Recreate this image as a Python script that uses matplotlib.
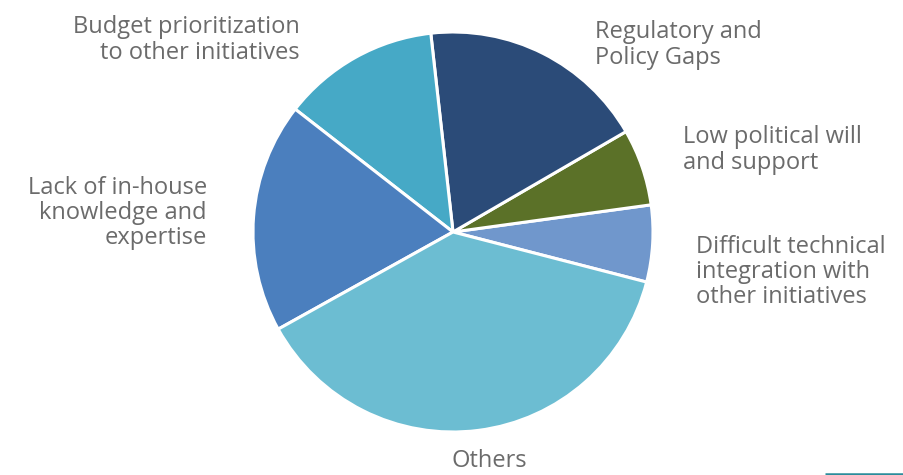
import matplotlib
matplotlib.use('Agg')
import matplotlib.pyplot as plt

# slice shares (%), counter-clockwise from the lower right
labels = ['Difficult technical\nintegration with\nother initiatives',
          'Low political will\nand support',
          'Regulatory and\nPolicy Gaps',
          'Budget prioritization\nto other initiatives',
          'Lack of in-house\nknowledge and\nexpertise',
          'Others']
shares = [6.2, 6.2, 18.4, 12.7, 18.6, 37.9]
colors = ['#7097cc', '#5b7128', '#2b4b78', '#46a9c6', '#4b7fbe', '#6cbdd2']

# where each label sits (pixels from the top left) and how it is aligned
label_xy = [(696, 272), (683, 150), (595, 45), (300, 40), (207, 213), (489, 461)]
label_ha = ['left', 'left', 'left', 'right', 'right', 'center']

W, H = 904, 475
fig = plt.figure(figsize=(W / 100, H / 100), dpi=100)
ax = fig.add_axes([0, 0, 1, 1])

ax.pie(shares, colors=colors, startangle=-14.5, counterclock=True,
       center=(453, H - 232), radius=200, frame=True,
       wedgeprops=dict(edgecolor='white', linewidth=2.2))
ax.set_xlim(0, W)
ax.set_ylim(0, H)
ax.set_aspect('equal')
ax.axis('off')

for text, (x, y), ha in zip(labels, label_xy, label_ha):
    ax.text(x, H - y, text, ha=ha, va='center', fontsize=17,
            family='Open Sans', color='#6b6b6b', linespacing=1.08,
            multialignment=ha)

# small teal rule in the bottom right corner
ax.plot([825, 904], [1, 1], color='#2b8c9b', linewidth=1.8, solid_capstyle='butt')

fig.savefig('out.png', dpi=100)
